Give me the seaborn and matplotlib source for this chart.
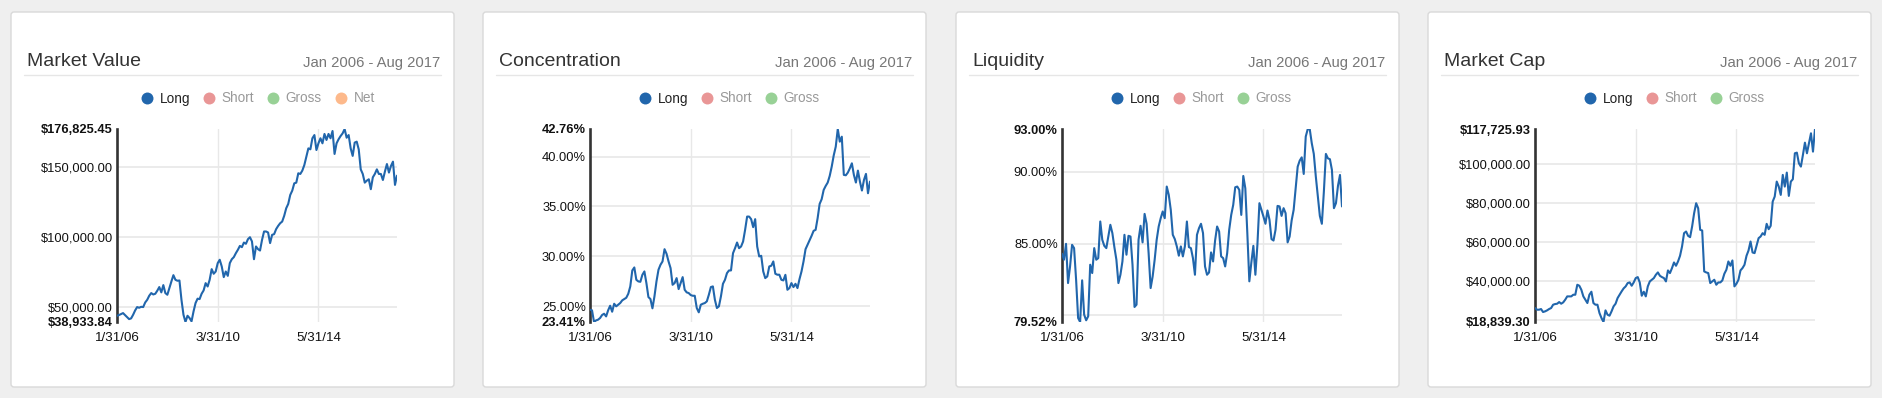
import numpy as np
import seaborn as sns
import matplotlib.pyplot as plt
from matplotlib.patches import FancyBboxPatch

# month-end observations Jan 2006 .. Aug 2017 (140 points)
x_ticks = [0, 50, 100]
x_labels = ['1/31/06', '3/31/10', '5/31/14']
period = 'Jan 2006 - Aug 2017'

# Market Value, thousands of $
market_value = [
    43.4, 43.9, 44.6, 45.3, 43.9, 42.5, 41.0, 41.5, 44.1, 47.2,
    49.6, 49.1, 49.8, 49.6, 52.9, 54.8, 57.7, 59.6, 58.6, 59.1,
    61.3, 63.9, 60.1, 65.3, 59.6, 58.4, 63.2, 67.9, 72.4, 69.1,
    68.4, 68.6, 54.8, 44.1, 38.93384, 43.4, 41.8, 39.4, 46.5, 52.5,
    55.6, 55.3, 59.1, 61.5, 66.7, 64.3, 69.1, 76.7, 73.4, 75.0,
    81.0, 83.4, 78.6, 71.0, 75.0, 71.9, 81.0, 83.8, 85.3, 88.1,
    90.5, 93.3, 92.4, 95.7, 94.8, 98.1, 99.5, 96.5, 83.8, 92.9,
    91.0, 90.0, 97.6, 103.6, 103.6, 102.9, 95.3, 101.2, 101.7, 105.3,
    107.6, 109.5, 110.7, 114.8, 120.2, 123.3, 129.7, 132.8, 138.0, 138.5,
    145.2, 144.7, 147.1, 151.1, 157.1, 163.0, 162.3, 170.2, 172.5, 161.8,
    166.6, 170.2, 166.6, 173.3, 169.0, 173.3, 170.2, 175.4, 159.0, 166.6,
    169.5, 171.8, 173.7, 176.82545, 170.6, 172.5, 163.0, 157.6, 167.1, 167.8,
    162.3, 148.0, 144.7, 138.5, 139.9, 140.9, 133.8, 142.3, 144.7, 148.0,
    144.7, 144.7, 140.4, 146.4, 151.8, 145.7, 150.4, 153.5, 136.9, 143.5,
]

# Concentration, %
concentration = [
    24.64, 24.58, 23.41, 23.57, 23.64, 23.81, 24.11, 24.24, 23.97, 24.58,
    25.04, 24.44, 25.24, 24.98, 25.14, 25.31, 25.58, 25.71, 25.84, 26.24,
    26.98, 28.58, 28.88, 27.64, 27.48, 27.44, 28.14, 28.48, 27.31, 25.91,
    25.71, 24.78, 25.98, 27.48, 28.65, 29.15, 29.48, 30.71, 30.25, 29.48,
    28.81, 27.14, 27.31, 27.81, 26.71, 27.31, 27.91, 26.64, 26.38, 26.31,
    26.11, 26.04, 26.04, 24.81, 24.38, 25.14, 25.24, 25.31, 25.48, 26.14,
    26.91, 26.98, 25.64, 24.81, 24.98, 25.98, 27.24, 27.64, 28.31, 28.58,
    28.58, 30.31, 30.81, 31.38, 30.81, 30.98, 31.48, 32.65, 33.98, 33.98,
    33.72, 32.92, 33.72, 30.98, 29.98, 30.05, 28.48, 27.81, 27.98, 28.98,
    29.05, 29.48, 28.25, 28.15, 28.15, 27.64, 27.58, 28.14, 26.64, 26.81,
    27.31, 26.91, 27.24, 26.81, 27.71, 28.48, 29.48, 30.71, 31.15, 31.58,
    32.05, 32.55, 32.65, 33.82, 35.25, 35.72, 36.65, 37.05, 37.39, 38.06,
    38.99, 40.12, 40.99, 42.76, 41.49, 41.99, 38.16, 38.12, 38.39, 38.82,
    39.32, 38.16, 37.39, 38.59, 37.49, 36.59, 37.65, 38.26, 36.32, 37.49,
]

# Liquidity, %
liquidity = [
    84.29, 83.87, 84.98, 82.24, 83.40, 84.91, 84.68, 82.47, 79.80, 79.52,
    82.43, 80.03, 79.64, 79.92, 83.52, 82.94, 84.68, 83.87, 83.98, 86.54,
    85.26, 84.84, 84.68, 85.49, 86.31, 85.73, 84.75, 83.87, 82.24, 82.82,
    83.75, 85.61, 84.22, 85.54, 85.49, 83.52, 80.57, 80.73, 85.26, 86.24,
    85.08, 87.07, 86.38, 84.33, 81.89, 82.70, 83.87, 85.26, 86.19, 86.77,
    87.24, 86.77, 88.98, 88.40, 87.35, 85.61, 85.31, 84.80, 84.15, 84.80,
    84.10, 84.80, 86.54, 84.75, 84.68, 83.98, 82.82, 85.61, 86.07, 86.38,
    85.73, 83.40, 82.82, 82.98, 84.38, 83.75, 85.21, 86.19, 85.84, 84.10,
    83.98, 83.40, 84.33, 85.96, 87.00, 87.70, 88.93, 88.98, 88.75, 87.00,
    89.72, 88.86, 85.73, 82.36, 83.68, 84.84, 82.82, 84.91, 87.82, 87.35,
    86.89, 86.38, 87.31, 86.66, 85.31, 85.21, 85.96, 87.63, 87.59, 86.93,
    87.47, 87.12, 85.08, 85.49, 86.61, 87.35, 88.86, 90.37, 90.79, 91.02,
    89.86, 92.47, 93.00, 92.98, 92.00, 91.26, 89.68, 88.28, 86.93, 86.38,
    88.63, 91.26, 90.95, 90.89, 90.14, 87.47, 87.82, 89.03, 89.79, 87.59,
]

# Market Cap, thousands of $
market_cap = [
    25.99, 25.14, 25.14, 25.48, 23.95, 24.29, 24.80, 25.48, 25.99, 27.70,
    28.04, 28.21, 29.06, 28.21, 28.89, 30.26, 31.96, 31.96, 31.96, 32.81,
    32.81, 37.93, 37.42, 35.37, 31.96, 30.26, 28.55, 32.81, 34.35, 28.55,
    27.70, 27.70, 23.44, 20.88, 18.8393, 24.80, 22.58, 22.07, 24.29, 26.85,
    28.21, 31.11, 32.81, 34.52, 36.06, 37.08, 38.78, 39.12, 37.42, 39.12,
    41.34, 41.85, 39.12, 32.30, 34.35, 31.96, 37.08, 39.63, 40.48, 41.34,
    43.04, 44.24, 42.53, 41.85, 41.34, 39.63, 45.26, 43.90, 46.45, 49.35,
    47.65, 49.86, 52.76, 57.54, 64.36, 65.21, 62.99, 62.31, 67.77, 74.59,
    79.70, 77.15, 66.06, 65.72, 44.75, 44.24, 43.90, 38.78, 39.63, 40.48,
    37.93, 39.12, 39.12, 40.14, 43.56, 45.60, 49.86, 47.65, 50.38, 37.08,
    38.44, 40.48, 45.26, 46.45, 48.16, 52.76, 55.49, 60.08, 54.47, 54.13,
    57.88, 61.80, 62.65, 64.36, 63.51, 69.13, 66.40, 68.11, 80.56, 83.11,
    90.79, 88.23, 83.97, 94.20, 88.23, 95.39, 83.45, 90.79, 91.98, 105.28,
    105.62, 100.17, 98.46, 104.43, 110.74, 105.28, 110.39, 115.51, 106.13, 117.72593,
]

titles = ['Market Value', 'Concentration', 'Liquidity', 'Market Cap']
legend_names = [
    ['Long', 'Short', 'Gross', 'Net'],
    ['Long', 'Short', 'Gross'],
    ['Long', 'Short', 'Gross'],
    ['Long', 'Short', 'Gross'],
]
legend_colors = {'Long': '#2166ac', 'Short': '#e99696', 'Gross': '#98d196', 'Net': '#fdb98b'}

# (series, scale, regular ticks, tick labels to hide, kind)
panels = [
    (market_value, 1000, [50000, 100000, 150000], [], 'usd'),
    (concentration, 1, [25, 30, 35, 40], [], 'pct'),
    (liquidity, 1, [80, 85, 90], [80], 'pct'),
    (market_cap, 1000, [20000, 40000, 60000, 80000, 100000], [20000], 'usd'),
]

W, H = 1883, 398
sns.set_theme(style='white')
plt.rcParams['font.family'] = ['Liberation Sans', 'DejaVu Sans']

fig = plt.figure(figsize=(W / 100, H / 100), dpi=100)
fig.patch.set_facecolor('#efefef')

# pixel-space overlay for the cards, titles and legends
bg = fig.add_axes([0, 0, 1, 1], zorder=-1)
bg.set_xlim(0, W)
bg.set_ylim(H, 0)
bg.axis('off')


def fmt(v, kind):
    if kind == 'usd':
        return '${:,.2f}'.format(v)
    return '{:.2f}%'.format(v)


card_left = [11, 483, 956, 1428]
card_w = 443
plot_left = [117, 590, 1062, 1535]
plot_w = 280
plot_top, plot_bot = 129, 322

for k in range(4):
    cl = card_left[k]
    card = FancyBboxPatch((cl, 12), card_w, 375, boxstyle='round,pad=0,rounding_size=3',
                          facecolor='white', edgecolor='#d9d9d9', linewidth=1)
    bg.add_patch(card)
    bg.text(cl + 16, 66, titles[k], fontsize=14, color='#333333', va='baseline', ha='left')
    bg.text(cl + card_w - 14, 66.5, period, fontsize=10.7, color='#777777', va='baseline', ha='right')
    bg.plot([cl + 13, cl + card_w - 13], [75.3, 75.3], color='#e6e6e6', lw=1)

    # legend
    names = legend_names[k]
    item_w = [62, 64, 68, 50]
    total = sum(item_w[:len(names)]) - 12
    x = plot_left[k] + plot_w / 2 - total / 2 + 6
    for j, nm in enumerate(names):
        bg.plot(x, 97.5, 'o', ms=8.6, color=legend_colors[nm], mec='none')
        bg.text(x + 12.5, 102.5, nm, fontsize=9.8, va='baseline', ha='left',
                color='#222222' if nm == 'Long' else '#999999')
        x += item_w[j]

    # chart
    vals, scale, ticks, hidden, kind = panels[k]
    y = np.array(vals) * scale
    idx = np.arange(len(y))
    ax = fig.add_axes([plot_left[k] / W, 1 - plot_bot / H, plot_w / W, (plot_bot - plot_top) / H])
    ax.set_facecolor('none')
    for t in ticks:
        ax.axhline(t, color='#e8e8e8', lw=1.2, zorder=0)
    for t in x_ticks[1:]:
        ax.axvline(t, color='#e8e8e8', lw=1.0, zorder=0)
    sns.lineplot(x=idx, y=y, ax=ax, color='#2166ac', linewidth=1.5, zorder=3)

    ymin, ymax = y.min(), y.max()
    ax.set_xlim(0, len(y) - 1)
    ax.set_ylim(ymin, ymax)
    yt = [ymin] + ticks + [ymax]
    ax.set_yticks(yt)
    ax.set_yticklabels(['' if t in hidden else fmt(t, kind) for t in yt])
    for j, lab in enumerate(ax.get_yticklabels()):
        if j == 0 or j == len(yt) - 1:
            lab.set_fontweight('bold')
    ax.set_xticks(x_ticks)
    ax.set_xticklabels(x_labels)
    ax.tick_params(axis='y', length=0, pad=3, labelsize=9.3, labelcolor='#111111')
    ax.tick_params(axis='x', length=0, pad=7.5, labelsize=9.6, labelcolor='#111111')
    ax.set_xlabel('')
    ax.set_ylabel('')
    for s in ['top', 'right', 'bottom']:
        ax.spines[s].set_visible(False)
    ax.spines['left'].set_color('#333333')
    ax.spines['left'].set_linewidth(1.9)
    ax.grid(False)

fig.savefig('out.png', dpi=100, facecolor=fig.get_facecolor())
